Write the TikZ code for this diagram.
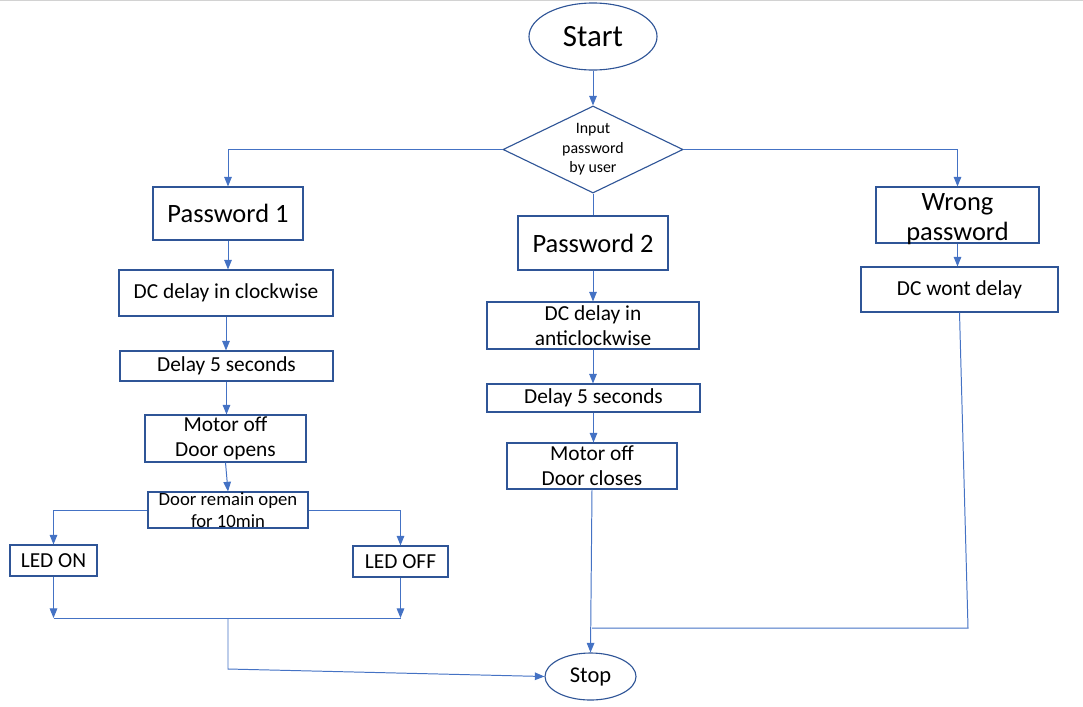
\documentclass[tikz,border=0pt]{standalone}
\usepackage{fontspec}
\setmainfont{Carlito}
\usetikzlibrary{shapes.geometric,arrows.meta}
\definecolor{boxblue}{HTML}{2F5597}
\definecolor{lineblue}{HTML}{4472C4}
\begin{document}
\begin{tikzpicture}[x=0.025cm,y=-0.025cm,
  box/.style={draw=boxblue,line width=0.8pt,inner sep=0pt,align=center,font=\fontsize{15.2}{18}\selectfont},
  term/.style={ellipse,draw=boxblue,line width=0.8pt,inner sep=0pt},
  flow/.style={draw=lineblue,line width=0.7pt},
  arr/.style={flow,-{Triangle[length=2.4mm,width=1.9mm]}}]
  \useasboundingbox (0,0) rectangle (1083,706);
  \draw[gray!35,line width=0.8pt] (0,0.6) -- (1083,0.6);
  \node[term,minimum width=3.2cm,minimum height=1.675cm,font=\fontsize{22}{26}\selectfont] (start) at (593,36.5) {Start};
  \node[diamond,aspect=2.1,draw=boxblue,line width=0.8pt,inner sep=0pt,minimum width=4.5cm,minimum height=2.175cm,align=center,font=\fontsize{11.3}{13.9}\selectfont] (input) at (593,149.5) {Input\\password\\by user};
  \node[box,minimum width=3.75cm,minimum height=1.325cm,font=\fontsize{18.8}{22}\selectfont] (pw1) at (228,213.5) {Password 1};
  \node[box,minimum width=3.75cm,minimum height=1.35cm,font=\fontsize{18.8}{22}\selectfont] (pw2) at (593,243) {Password 2};
  \node[box,minimum width=4.075cm,minimum height=1.4cm,label={[font=\fontsize{18.8}{21.3}\selectfont,align=center,yshift=-0.1cm]center:{Wrong\\password}}] (wrong) at (957.5,215) {};
  \node[box,minimum width=5.35cm,minimum height=1.15cm] (cw) at (226,293) {DC delay in clockwise};
  \node[box,minimum width=5.325cm,minimum height=0.75cm] (d5a) at (226.5,366) {Delay 5 seconds};
  \node[box,minimum width=4.025cm,minimum height=1.175cm] (open) at (225.5,438.5) {Motor off\\Door opens};
  \node[box,minimum width=4cm,minimum height=0.9cm,label={[font=\fontsize{13.3}{15.6}\selectfont,align=center]center:{Door remain open\\for 10min}}] (remain) at (228,510) {};
  \node[box,minimum width=2.175cm,minimum height=0.775cm] (ledon) at (53.5,560.5) {LED ON};
  \node[box,minimum width=2.375cm,minimum height=0.775cm] (ledoff) at (400.5,561.5) {LED OFF};
  \node[box,minimum width=5.3cm,minimum height=1.175cm] (acw) at (593,325.5) {DC delay in\\anticlockwise};
  \node[box,minimum width=5.325cm,minimum height=0.7cm] (d5b) at (593.5,398) {Delay 5 seconds};
  \node[box,minimum width=4.25cm,minimum height=1.15cm] (close) at (592,466) {Motor off\\Door closes};
  \node[box,minimum width=4.925cm,minimum height=1.125cm] (wontd) at (959.5,289.5) {DC wont delay};
  \node[term,minimum width=2.275cm,minimum height=1.175cm,font=\fontsize{16}{19}\selectfont] (stop) at (590.5,676.5) {Stop};
  \coordinate (jl) at (53.5,618);
  \coordinate (jr) at (400.5,618);
  \coordinate (jm) at (228,618);
  \coordinate (jb) at (228,669);
  \coordinate (rc) at (968,628);
  \draw[arr] (start) -- (input);
  \draw[arr] (input.west) -| (pw1.north);
  \draw[arr] (input.east) -| (wrong.north);
  \draw[flow] (input.south) -- (pw2.north);
  \draw[arr] (pw1.south) -- (pw1.south |- cw.north);
  \draw[arr] (cw.south) -- (cw.south |- d5a.north);
  \draw[arr] (d5a.south) -- (d5a.south |- open.north);
  \draw[arr] (open.south) -- (remain.north);
  \draw[arr] (remain.west) -| (ledon.north);
  \draw[arr] (remain.east) -| (ledoff.north);
  \draw[arr] (ledon.south) -- (jl);
  \draw[arr] (ledoff.south) -- (jr);
  \draw[flow] (jl) -- (jr);
  \draw[arr] (jm) -- (jb) -- (stop.west);
  \draw[arr] (pw2.south) -- (pw2.south |- acw.north);
  \draw[arr] (acw.south) -- (acw.south |- d5b.north);
  \draw[arr] (d5b.south) -- (d5b.south |- close.north);
  \draw[arr] (close.south) -- (stop.north);
  \draw[arr] (wrong.south) -- (wrong.south |- wontd.north);
  \draw[flow] (wontd.south) -- (rc) -- (rc -| close.south);
\end{tikzpicture}
\end{document}
